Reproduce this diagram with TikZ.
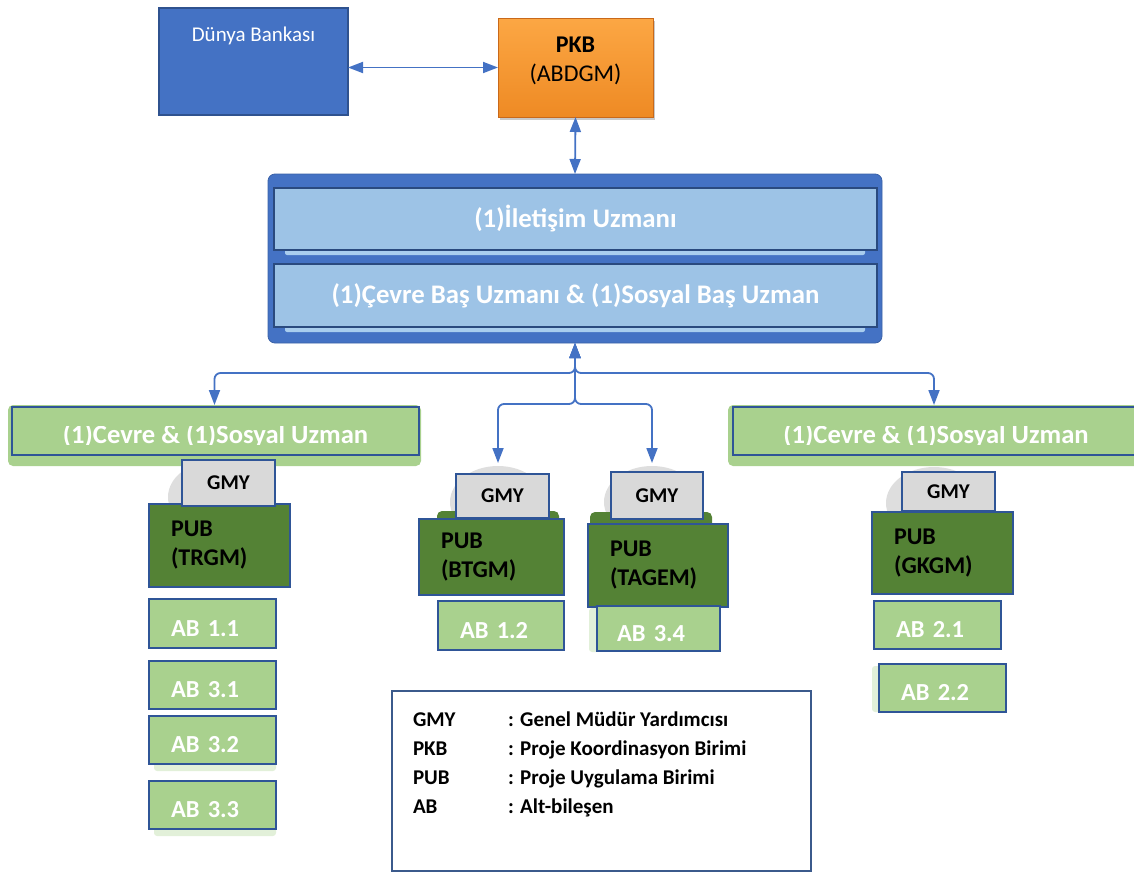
\documentclass[tikz,border=0pt]{standalone}
\usepackage{fontspec}
\setmainfont{Carlito}
\usetikzlibrary{arrows.meta,shadows,shapes.geometric}

\newcommand\fsz[2]{\fontsize{#1pt}{#2pt}\selectfont}

\definecolor{wbblue}{HTML}{4472C4}
\definecolor{wbedge}{HTML}{2F528F}
\definecolor{navy}{HTML}{2F5597}
\definecolor{deepnavy}{HTML}{2A4A7F}
\definecolor{paleblue}{HTML}{9DC3E6}
\definecolor{stripblue}{HTML}{A9CDEE}
\definecolor{leaf}{HTML}{A9D18E}
\definecolor{leafshade}{HTML}{E2F0D9}
\definecolor{moss}{HTML}{548235}
\definecolor{ash}{HTML}{D9D9D9}
\definecolor{mist}{HTML}{DEDEDE}
\definecolor{orangetop}{HTML}{FCA744}
\definecolor{orangebot}{HTML}{EE8A24}
\definecolor{orangeedge}{HTML}{C9691A}
\definecolor{legendedge}{HTML}{3B5A8C}

\tikzset{
  plain/.style={rectangle, inner sep=0pt, outer sep=0pt},
  bankbox/.style={plain, fill=wbblue, draw=wbedge, line width=1.5pt},
  pkbbox/.style={plain, top color=orangetop, bottom color=orangebot,
    draw=orangeedge, line width=0.8pt,
    drop shadow={shadow xshift=2pt, shadow yshift=-3pt, opacity=.3, fill=black!70}},
  frame/.style={plain, rounded corners=7pt, fill=wbblue, draw=wbblue!85!black, line width=0.8pt},
  strip/.style={plain, rounded corners=2pt, fill=stripblue},
  rolebox/.style={plain, fill=paleblue, draw=deepnavy, line width=1.8pt,
    text=white, font=\fsz{26.8}{32}\bfseries},
  halo/.style={plain, rounded corners=5pt, fill=leaf},
  banner/.style={plain, fill=leaf, draw=navy, line width=2pt},
  bannertext/.style={plain, text=white, font=\fsz{26.6}{32}\bfseries, anchor=base},
  disc/.style={ellipse, inner sep=0pt, outer sep=0pt, fill=mist,
    minimum width=96pt, minimum height=72pt},
  backing/.style={plain, rounded corners=5pt, fill=moss},
  gmybox/.style={plain, fill=ash, draw=navy, line width=2pt,
    font=\fsz{21}{25}\bfseries},
  pubbox/.style={plain, fill=moss, draw=navy, line width=2pt,
    font=\fsz{24}{29}\bfseries, align=left, inner xsep=22pt},
  abbox/.style={plain, fill=leaf, draw=navy, line width=2.2pt,
    text=white, font=\fsz{24.5}{29}\bfseries, align=left, inner xsep=22pt,
    text height=25pt, text depth=0pt},
  abshade/.style={plain, rounded corners=3pt, fill=leafshade},
  legendbox/.style={plain, draw=legendedge, line width=1.8pt},
  legendtext/.style={plain, anchor=base west, font=\fsz{21}{25}\bfseries},
  link/.style={draw=wbblue, line width=1.8pt,
    {Triangle[length=15pt,width=11pt]}-{Triangle[length=15pt,width=11pt]}},
}

\begin{document}
\begin{tikzpicture}[x=1pt, y=-1pt]
\useasboundingbox (0,0) rectangle (1134,873);

% --- top level: World Bank and coordination unit
\node[bankbox, minimum width=189pt, minimum height=107pt] (wb) at (253.5,61.5) {};
\node[plain, anchor=base, text=white, font=\fsz{21}{25}] (wbtext) at (253.5,41) {Dünya Bankası};

\node[pkbbox, minimum width=155pt, minimum height=99pt] (pkb) at (575.5,67.5) {};
\node[plain, anchor=north, align=center, font=\fsz{24}{29}] (pkbtext) at (575.5,36.5)
  {\textbf{PKB}\\(ABDGM)};

% --- central expert frame
\node[frame, minimum width=614pt, minimum height=169pt] (big) at (575,258.5) {};
\node[strip, minimum width=580pt, minimum height=8pt] (strip1) at (575,251) {};
\node[strip, minimum width=580pt, minimum height=8pt] (strip2) at (575,328) {};
\node[rolebox, minimum width=603pt, minimum height=62pt] (role1) at (575.5,219)
  {(1)İletişim Uzmanı};
\node[rolebox, minimum width=603pt, minimum height=63pt] (role2) at (575.5,295.5)
  {(1)Çevre Baş Uzmanı \& (1)Sosyal Baş Uzman};

% --- regional expert banners (text frame cuts the descenders)
\node[halo, minimum width=413pt, minimum height=61pt] (lbh) at (214.5,435.5) {};
\node[banner, minimum width=407pt, minimum height=48pt] (lb) at (215.5,431) {};
\begin{scope}
  \clip (12,426.5) rectangle (419,444.5);
  \node[bannertext] (lbt) at (215.5,443) {(1)Cevre \& (1)Sosyal Uzman};
\end{scope}

\node[halo, minimum width=432pt, minimum height=61pt] (rbh) at (944,435.5) {};
\node[banner, minimum width=427pt, minimum height=48pt] (rb) at (946.5,431) {};
\begin{scope}
  \clip (733,426.5) rectangle (1134,444.5);
  \node[bannertext] (rbt) at (936,443) {(1)Cevre \& (1)Sosyal Uzman};
\end{scope}

% --- unit groups: grey disc, deputy director, implementation unit
\node[disc] (e1) at (216,497) {};
\node[disc] (e2) at (498,502) {};
\node[disc] (e3) at (652,502) {};
\node[disc] (e4) at (934,503) {};

\node[backing, minimum width=122pt, minimum height=40pt] (g2) at (498,531) {};
\node[backing, minimum width=122pt, minimum height=40pt] (g3) at (651,532) {};

\node[pubbox, minimum width=141pt, minimum height=83pt, text width=97pt] (p1) at (219.5,545.5) {PUB\\(TRGM)};
\node[pubbox, minimum width=145pt, minimum height=76pt, text width=101pt] (p2) at (491.5,557) {PUB\\(BTGM)};
\node[pubbox, minimum width=140pt, minimum height=83pt, text width=96pt] (p3) at (658,565.5) {PUB\\(TAGEM)};
\node[pubbox, minimum width=141pt, minimum height=82pt, text width=97pt] (p4) at (942.5,553) {PUB\\(GKGM)};

\node[gmybox, minimum width=93pt, minimum height=46pt] (m1) at (228.5,483) {GMY};
\node[gmybox, minimum width=93pt, minimum height=44pt] (m2) at (502.5,496) {GMY};
\node[gmybox, minimum width=92pt, minimum height=47pt] (m3) at (657,495.5) {GMY};
\node[gmybox, minimum width=93pt, minimum height=39pt] (m4) at (948.5,491.5) {GMY};

% --- sub-components
\node[abshade, minimum width=122pt, minimum height=10pt] (s32) at (215,766) {};
\node[abshade, minimum width=122pt, minimum height=10pt] (s33) at (215,831) {};
\node[abshade, minimum width=12pt, minimum height=46pt] (s22) at (878,689) {};
\node[abshade, minimum width=10pt, minimum height=44pt] (s34) at (594,630) {};

\node[abbox, minimum width=127pt, minimum height=49pt, text width=83pt] (a11) at (212.5,623.5) {AB 1.1};
\node[abbox, minimum width=127pt, minimum height=48pt, text width=83pt] (a31) at (212.5,685) {AB 3.1};
\node[abbox, minimum width=127pt, minimum height=48pt, text width=83pt] (a32) at (212.5,740) {AB 3.2};
\node[abbox, minimum width=127pt, minimum height=48pt, text width=83pt] (a33) at (212.5,805) {AB 3.3};
\node[abbox, minimum width=126pt, minimum height=49pt, text width=82pt] (a12) at (501,625.5) {AB 1.2};
\node[abbox, minimum width=123pt, minimum height=45pt, text width=83pt, inner xsep=20pt] (a34) at (658.5,628.5) {AB 3.4};
\node[abbox, minimum width=127pt, minimum height=48pt, text width=83pt] (a21) at (937.5,625) {AB 2.1};
\node[abbox, minimum width=127pt, minimum height=48pt, text width=83pt] (a22) at (942.5,688) {AB 2.2};

% --- legend
\node[legendbox, minimum width=419pt, minimum height=180pt] (lg) at (601.5,781) {};
\node[legendtext] (k1) at (413,726) {GMY};
\node[legendtext] (v1) at (508,726) {: Genel Müdür Yardımcısı};
\node[legendtext] (k2) at (413,755) {PKB};
\node[legendtext] (v2) at (508,755) {: Proje Koordinasyon Birimi};
\node[legendtext] (k3) at (413,784) {PUB};
\node[legendtext] (v3) at (508,784) {: Proje Uygulama Birimi};
\node[legendtext] (k4) at (413,813) {AB};
\node[legendtext] (v4) at (508,813) {: Alt-bileşen};

% --- connectors
\draw[link] (wb.east |- pkb.west) -- (pkb.west);
\draw[link] (pkb.south) -- (big.north);
\draw[link, rounded corners=6pt] (big.south) -- ++(0,30) -| (lbh.north);
\draw[link, rounded corners=6pt] (big.south) -- ++(0,30) -| (e4.north |- rbh.north);
\draw[link, rounded corners=6pt] (big.south) -- ++(0,61) -| ([yshift=3pt]e2.north);
\draw[link, rounded corners=6pt] (big.south) -- ++(0,61) -| ([yshift=3pt]e3.north);
\end{tikzpicture}
\end{document}
